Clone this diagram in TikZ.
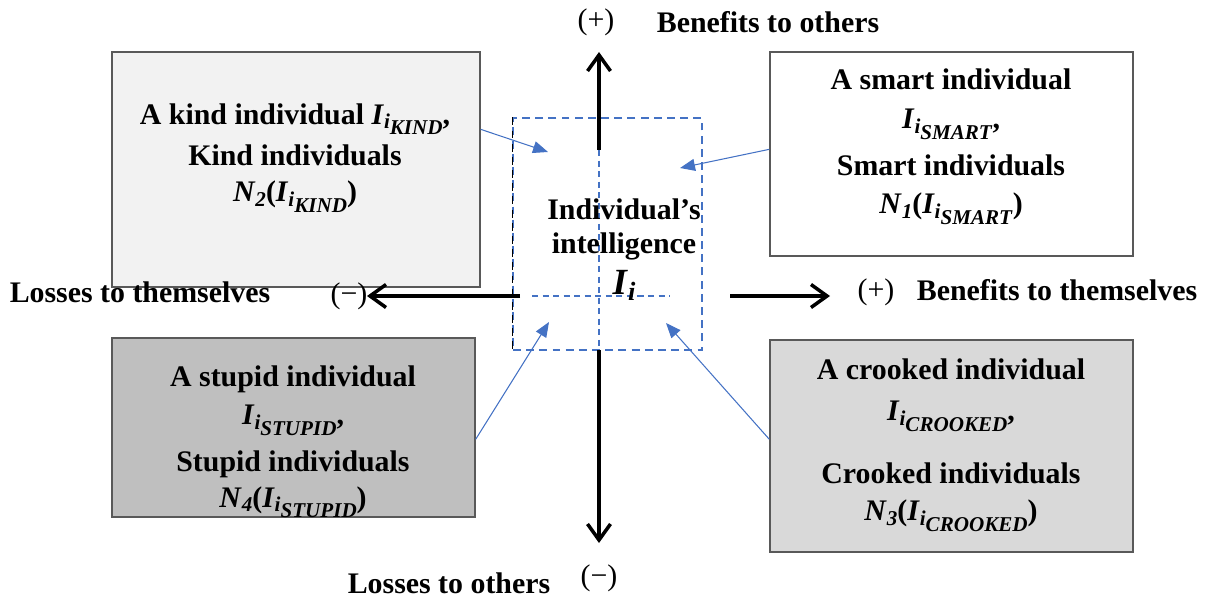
\documentclass[tikz,border=0pt]{standalone}
\usepackage{fontspec}
\setmainfont{Liberation Serif}
\usetikzlibrary{arrows.meta,positioning,calc}
\definecolor{lineblue}{HTML}{4472C4}
\definecolor{boxedge}{HTML}{595959}
\definecolor{kindfill}{HTML}{F2F2F2}
\definecolor{stupidfill}{HTML}{BFBFBF}
\definecolor{crookedfill}{HTML}{D9D9D9}
\newcommand{\Isub}[1]{\textit{I}\raisebox{-0.35ex}{\fontsize{12}{12}\selectfont\textit{i}\raisebox{-0.6ex}{\textit{#1}}}}
\newcommand{\Nsub}[1]{\textit{N}\raisebox{-0.35ex}{\fontsize{12}{12}\selectfont\textit{#1}}}
\newcommand{\Icenter}{{\fontsize{21}{21}\selectfont\textit{I}\raisebox{-0.35ex}{\fontsize{15}{15}\selectfont\textit{i}}}}

\begin{document}
\begin{tikzpicture}[x=0.02cm, y=-0.02cm,
    font=\fontsize{17}{20}\selectfont\bfseries,
    quad/.style={draw=boxedge, line width=0.8pt, inner sep=0pt},
    boxtext/.style={anchor=north, align=center, inner sep=0pt},
    axislabel/.style={inner sep=0pt},
    axis/.style={line width=2pt, -{Straight Barb[length=3.2mm,width=4.6mm]}},
    pointer/.style={draw=lineblue, line width=0.6pt, -{Triangle[length=3mm,width=2.4mm]}},
    guide/.style={draw=lineblue, line width=0.6pt, dash pattern=on 3.5pt off 2.5pt},
    sign/.style={inner sep=0pt, font=\fontsize{17}{20}\selectfont\mdseries}]
  \useasboundingbox (0,0) rectangle (1212,598);

  % the four kinds of individual
  \node[quad, fill=kindfill, minimum width=7.36cm, minimum height=4.70cm] (kind) at (296,169.5) {};
  \node[quad, fill=white, minimum width=7.26cm, minimum height=4.08cm] (smart) at (951.5,154) {};
  \node[quad, fill=stupidfill, minimum width=7.26cm, minimum height=3.58cm] (stupid) at (293.5,427.5) {};
  \node[quad, fill=crookedfill, minimum width=7.26cm, minimum height=4.24cm] (crooked) at (951.5,446) {};

  \node[boxtext] (kindtxt) at (295,103)
    {A kind individual \Isub{KIND},\\[3.8pt] Kind individuals\\[0.5pt] \Nsub{2}(\Isub{KIND})};
  \node[boxtext] (smarttxt) at (951,68)
    {A smart individual\\[2.7pt] \Isub{SMART},\\[6.6pt] Smart individuals\\[1.5pt] \Nsub{1}(\Isub{SMART})};
  \node[boxtext] (stupidtxt) at (293,365)
    {A stupid individual\\[2pt] \Isub{STUPID},\\[6.6pt] Stupid individuals\\[0.3pt] \Nsub{4}(\Isub{STUPID})};
  \node[boxtext] (crookedtxt) at (951,358)
    {A crooked individual\\[3.8pt] \Isub{CROOKED},\\[15.7pt] Crooked individuals\\[1pt] \Nsub{3}(\Isub{CROOKED})};

  % intelligence region in the middle
  \node[draw=lineblue, line width=0.7pt, dash pattern=on 4.5pt off 3pt,
        minimum width=3.78cm, minimum height=4.64cm, inner sep=0pt] (ctr) at (607.5,234) {};
  \draw[line width=0.7pt, dash pattern=on 4.5pt off 3pt] (ctr.north west) -- (ctr.south west);
  \coordinate (vtop) at (599,150);
  \coordinate (hleft) at (532,296);
  \coordinate (hright) at (670,296);
  \draw[guide] (vtop) -- (vtop |- ctr.south);
  \draw[guide] (hleft) -- (hright);
  \node[boxtext] (ctrtxt) at (624,198) {Individual's\\[-0.2pt] intelligence\\[3.2pt] \Icenter};

  % axes
  \coordinate (upend) at (599,52);
  \coordinate (downstart) at (599,350);
  \coordinate (downend) at (599,543);
  \coordinate (leftstart) at (520,296);
  \coordinate (leftend) at (367,296);
  \coordinate (rightstart) at (730,296);
  \coordinate (rightend) at (830,296);
  \draw[axis] (vtop) -- (upend);
  \draw[axis] (downstart) -- (downend);
  \draw[axis] (leftstart) -- (leftend);
  \draw[axis] (rightstart) -- (rightend);

  \node[sign] (plustop) at (596,22) {(+)};
  \node[axislabel] (bentop) at (768,22) {Benefits to others};
  \node[sign] (minusleft) at (349,296) {(−)};
  \node[axislabel] (losleft) at (140,292) {Losses to themselves};
  \node[sign] (plusright) at (876,292) {(+)};
  \node[axislabel] (benright) at (1057,290) {Benefits to themselves};
  \node[sign] (minusbot) at (599,578) {(−)};
  \node[axislabel] (losbot) at (449,583) {Losses to others};

  % pointers into the middle
  \coordinate (kindtip) at (548,152);
  \coordinate (smarttip) at (680,168);
  \coordinate (stupidtip) at (549,322);
  \coordinate (crookedtip) at (666,323);
  \draw[pointer] ($(kind.north east)+(0,78)$) -- (kindtip);
  \draw[pointer] ($(smart.north west)+(0,98)$) -- (smarttip);
  \draw[pointer] ($(stupid.north east)+(0,102)$) -- (stupidtip);
  \draw[pointer] ($(crooked.north west)+(0,100)$) -- (crookedtip);
\end{tikzpicture}
\end{document}
